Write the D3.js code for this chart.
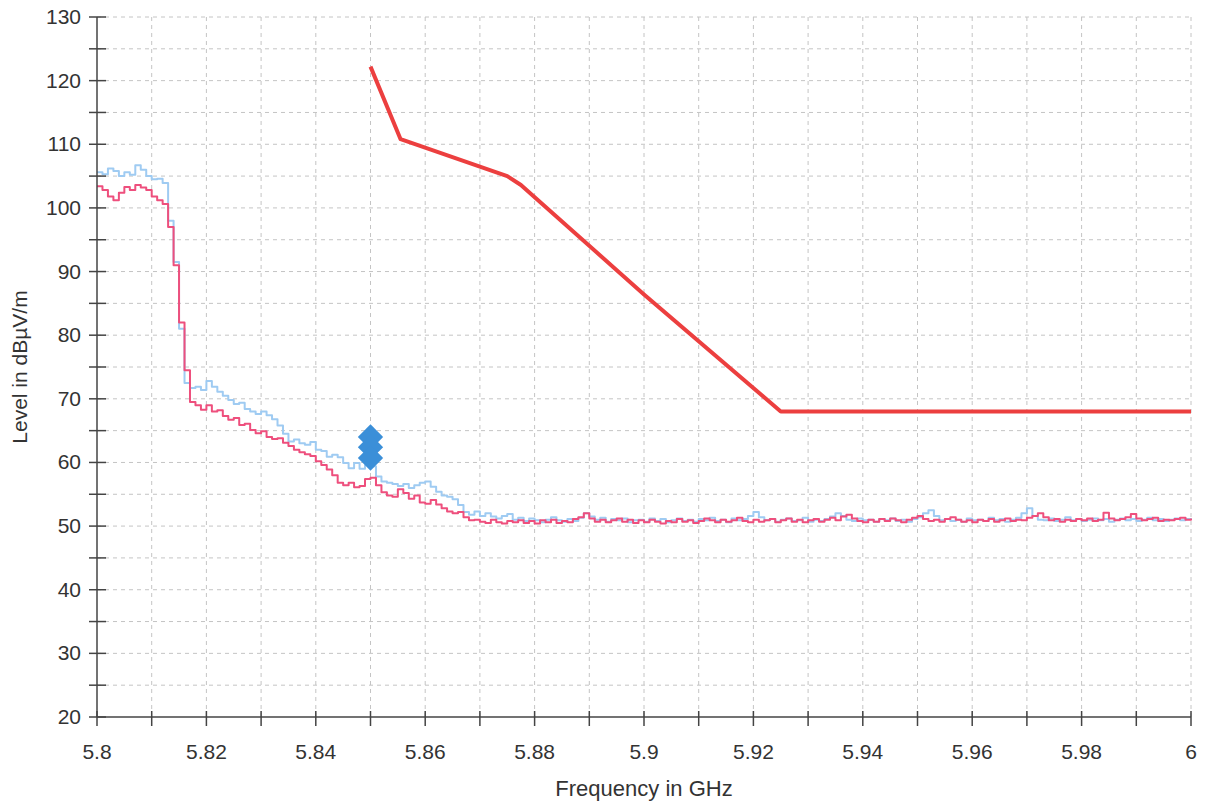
<!DOCTYPE html>
<html><head><meta charset="utf-8">
<script src="https://cdn.jsdelivr.net/npm/d3@7"></script>
<style>body{margin:0;background:#fff}svg{display:block}text{font-family:"Liberation Sans",Arial,sans-serif;fill:#333}</style>
</head><body><svg id="c" width="1205" height="805"></svg>
<script>
// ---- data ----
const sweepStart = 5.8, sweepStep = 0.001;   // analyser sweep grid (GHz)
const blueLevels = [
105.6,105.3,106.2,105.8,105.0,105.6,105.2,106.7,106.0,105.0,
104.5,104.6,103.9,98.0,91.5,81.0,72.5,71.7,71.9,71.4,
72.8,71.9,71.1,70.5,69.8,69.2,69.4,68.4,68.0,67.6,
68.0,67.4,66.8,65.8,64.5,63.3,63.6,63.0,62.8,63.2,
62.0,61.8,60.9,61.2,60.8,59.9,59.1,59.9,59.0,59.6,
59.4,57.8,57.0,56.8,56.6,56.3,56.6,56.0,56.4,56.8,
57.0,56.2,55.4,54.8,54.6,54.2,53.3,52.2,51.8,52.3,
51.6,52.0,51.5,51.2,51.6,51.9,
51.0,51.3,50.8,51.2,50.9,50.6,51.0,51.4,50.9,50.7,
51.1,50.8,51.3,52.0,51.5,51.0,51.3,50.7,51.1,50.9,
51.2,50.6,50.9,51.0,50.7,51.2,50.8,51.1,50.6,50.9,
51.2,50.8,51.0,50.7,51.1,50.9,51.3,50.8,51.0,50.6,
51.2,50.9,51.1,51.6,52.2,51.4,50.9,51.1,50.7,51.0,
51.2,50.8,50.9,51.3,50.7,51.0,50.8,51.1,51.5,52.0,
51.6,51.0,50.8,51.2,50.9,51.0,50.7,51.1,50.9,51.2,
50.8,51.0,50.7,51.1,51.4,52.0,52.5,51.6,50.9,51.1,
50.8,51.0,50.7,51.2,50.9,51.0,50.8,51.3,50.9,51.1,
50.7,51.0,51.3,52.0,52.8,51.6,51.0,50.9,51.2,50.8,
51.0,51.4,50.9,51.1,50.8,51.0,51.2,50.9,51.1,50.7,
51.0,51.2,50.9,51.1,50.8,51.0,51.3,50.9,51.1,50.8,
51.0,51.2,50.9,51.1,51.0];
const pinkLevels = [
103.4,102.8,101.8,101.2,102.4,103.3,102.8,103.6,103.2,102.8,
101.8,101.2,100.6,97.0,91.0,82.0,74.5,69.5,69.0,68.3,
69.0,68.0,68.2,67.3,66.7,67.0,65.9,66.1,65.1,64.6,
64.9,64.0,63.7,63.8,63.1,62.6,62.0,61.6,61.3,61.0,
60.2,59.6,58.9,58.0,56.8,56.4,56.8,56.1,56.3,57.4,
57.6,56.4,55.3,54.8,54.6,55.8,55.2,54.3,54.8,53.7,
53.5,54.1,53.4,52.8,52.3,52.0,52.2,51.4,50.9,51.0,
50.7,50.5,51.0,50.6,50.4,50.8,
50.6,50.9,50.5,50.8,50.4,50.9,50.6,51.0,50.5,50.8,
50.6,51.1,51.4,52.0,51.2,50.7,51.0,50.6,50.9,51.2,
50.7,51.0,50.5,50.9,50.6,51.0,50.7,50.4,50.8,50.6,
51.1,50.7,50.9,50.5,50.8,51.2,50.9,50.6,51.0,50.7,
50.9,51.3,50.8,50.6,51.0,50.7,50.9,51.1,50.6,50.9,
51.2,50.7,51.0,50.6,50.9,51.1,50.7,51.0,51.3,50.9,
51.5,51.8,51.2,50.8,50.6,51.0,50.7,51.1,50.8,51.2,
50.9,50.6,51.0,51.3,51.6,51.1,50.8,51.0,50.7,51.1,
51.4,51.0,50.7,50.9,50.6,51.0,50.8,51.1,50.7,50.9,
51.2,50.8,51.0,50.9,51.3,51.6,52.0,51.4,50.9,51.1,
50.7,51.0,50.8,51.1,50.9,51.2,50.8,51.0,52.1,51.2,
50.9,51.1,51.4,51.9,51.2,50.9,51.1,51.3,50.8,51.0,
50.9,51.1,51.3,51.0,51.2];
const limitFreq  = [5.85, 5.8555, 5.875, 5.8775, 5.9, 5.925, 6.0];
const limitLevel = [122.2, 110.8, 105.0, 103.6, 86.4, 68.0, 68.0];
const markerFreq  = [5.85, 5.85, 5.85];
const markerLevel = [64.0, 62.4, 60.7];
const xTicks = [5.8,5.81,5.82,5.83,5.84,5.85,5.86,5.87,5.88,5.89,5.9,5.91,5.92,5.93,5.94,5.95,5.96,5.97,5.98,5.99,6.0];
const xLabels = ["5.8","","5.82","","5.84","","5.86","","5.88","","5.9","","5.92","","5.94","","5.96","","5.98","","6"];
const yTicks = [20,25,30,35,40,45,50,55,60,65,70,75,80,85,90,95,100,105,110,115,120,125,130];
const yLabels = ["20","","30","","40","","50","","60","","70","","80","","90","","100","","110","","120","","130"];

// ---- chart ----
const W = 1205, H = 805, m = {l:97, r:14, t:17, b:88};
const svg = d3.select("#c");
const x = d3.scaleLinear().domain([5.8, 6.0]).range([m.l, W - m.r]);
const y = d3.scaleLinear().domain([20, 130]).range([H - m.b, m.t]);

// grid
const g = svg.append("g");
g.selectAll("line.v").data(xTicks.slice(1)).join("line")
  .attr("x1", d => x(d)).attr("x2", d => x(d)).attr("y1", y(20)).attr("y2", y(130))
  .attr("stroke", "#c4c4c4").attr("stroke-width", 1).attr("stroke-dasharray", "4,4");
g.selectAll("line.h").data(yTicks.slice(1)).join("line")
  .attr("x1", x(5.8)).attr("x2", x(6.0)).attr("y1", d => y(d)).attr("y2", d => y(d))
  .attr("stroke", "#c4c4c4").attr("stroke-width", 1).attr("stroke-dasharray", "4,4");

// traces
const idx = d3.range(blueLevels.length);
const fx = i => sweepStart + i * sweepStep;
const trace = arr => d3.line().x(i => x(fx(i))).y(i => y(arr[i])).curve(d3.curveStepAfter)(idx);
svg.append("path").attr("d", trace(blueLevels)).attr("fill", "none")
  .attr("stroke", "#9fcbf2").attr("stroke-width", 2).attr("stroke-linejoin", "round");
svg.append("path").attr("d", trace(pinkLevels)).attr("fill", "none")
  .attr("stroke", "#ee4f7d").attr("stroke-width", 2).attr("stroke-linejoin", "round");

// limit line
svg.append("path")
  .attr("d", d3.line().x((d,i) => x(limitFreq[i])).y((d,i) => y(limitLevel[i]))(limitFreq))
  .attr("fill", "none").attr("stroke", "#ec3f3f").attr("stroke-width", 4).attr("stroke-linejoin", "round");

// markers (rotated squares = diamonds)
svg.selectAll("path.mk").data(markerFreq).join("path")
  .attr("transform", (d,i) => `translate(${x(d)},${y(markerLevel[i])}) rotate(45)`)
  .attr("d", d3.symbol().type(d3.symbolSquare).size(320))
  .attr("fill", "#3b8fd8");

// axes
const ax = svg.append("g").attr("stroke", "#444").attr("stroke-width", 1.5);
ax.append("line").attr("x1", x(5.8)).attr("x2", x(6.0)).attr("y1", y(20)).attr("y2", y(20));
ax.append("line").attr("x1", x(5.8)).attr("x2", x(5.8)).attr("y1", y(20)).attr("y2", y(130));
ax.selectAll("line.xt").data(xTicks).join("line")
  .attr("x1", d => x(d)).attr("x2", d => x(d)).attr("y1", y(20) - 6).attr("y2", y(20) + 9);
ax.selectAll("line.yt").data(yTicks).join("line")
  .attr("y1", d => y(d)).attr("y2", d => y(d)).attr("x1", x(5.8) - 8).attr("x2", x(5.8) + 9);

svg.selectAll("text.xl").data(xTicks).join("text")
  .attr("x", d => x(d)).attr("y", y(20) + 42).attr("text-anchor", "middle")
  .attr("font-size", 21).text((d,i) => xLabels[i]);
svg.selectAll("text.yl").data(yTicks).join("text")
  .attr("x", x(5.8) - 16).attr("y", d => y(d) + 7).attr("text-anchor", "end")
  .attr("font-size", 21).text((d,i) => yLabels[i]);

svg.append("text").attr("x", (x(5.8) + x(6.0)) / 2).attr("y", 796).attr("text-anchor", "middle")
  .attr("font-size", 22).text("Frequency in GHz");
svg.append("text").attr("transform", `translate(27,${(y(20)+y(130))/2}) rotate(-90)`)
  .attr("text-anchor", "middle").attr("font-size", 21).text("Level in dBµV/m");
</script></body></html>
